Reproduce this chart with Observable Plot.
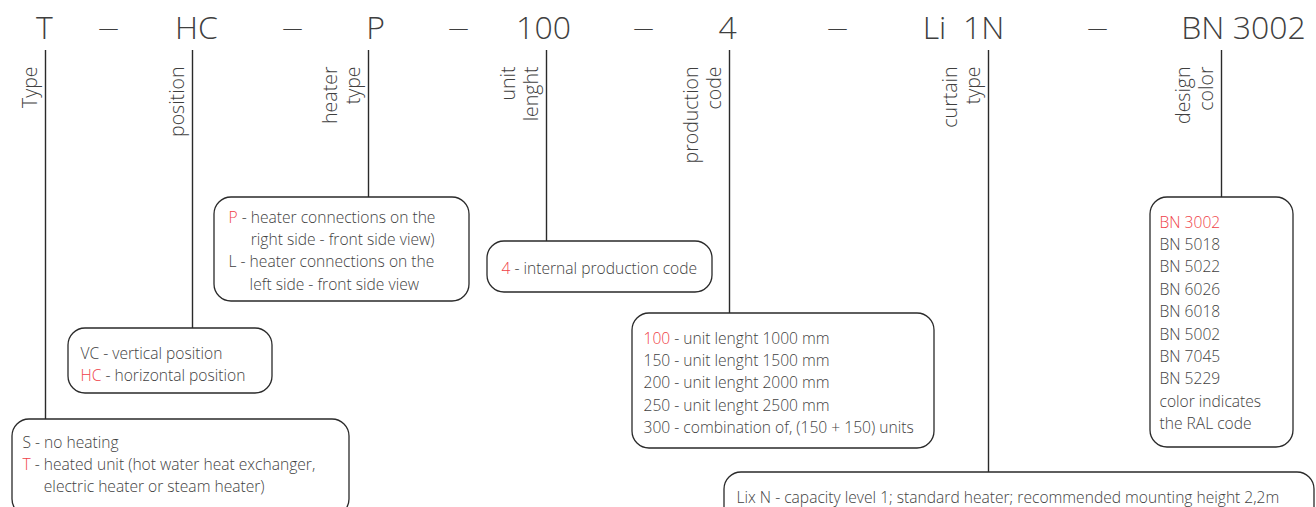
<!DOCTYPE html>
<html><head><meta charset="utf-8">
<script src="https://cdn.jsdelivr.net/npm/d3@7"></script>
<script src="https://cdn.jsdelivr.net/npm/@observablehq/plot@0.6"></script>
<style>html,body{margin:0;padding:0;background:#fff;overflow:hidden;} svg{display:block}</style>
</head><body><div id="chart"></div>
<script>
// ---- content ----
const DASH = "—";
const codeParts = ["T",DASH,"HC",DASH,"P",DASH,"100",DASH,"4",DASH,"Li\u00a0\u00a01N",DASH,"BN 3002"];
const fieldNames = ["Type","position","heater\ntype","unit\nlenght","production\ncode","curtain\ntype","design\ncolor"];
const typeOptions = [["S","no heating",false],["T","heated unit (hot water heat exchanger,\nelectric heater or steam heater)",true]];
const positionOptions = [["VC","vertical position",false],["HC","horizontal position",true]];
const heaterOptions = [["P","heater connections on the\nright side - front side view)",true],["L","heater connections on the\nleft side - front side view",false]];
const productionOptions = [["4","internal production code",true]];
const lengthOptions = [["100","unit lenght 1000 mm",true],["150","unit lenght 1500 mm",false],["200","unit lenght 2000 mm",false],["250","unit lenght 2500 mm",false],["300","combination of, (150 + 150) units",false]];
const curtainOptions = [["Lix N","capacity level 1; standard heater; recommended mounting height 2,2m",false]];
const colorOptions = ["BN 3002","BN 5018","BN 5022","BN 6026","BN 6018","BN 5002","BN 7045","BN 5229"];
const colorNote = ["color indicates","the RAL code"];
const selectedColor = "BN 3002";

// ---- layout (pixel frame of the diagram) ----
const W = 1316, H = 507;
const layout = {
  codeX: [44,108,196,292,375,458,543,643,727,837,963,1097,1243],
  codeBaseline: 38,
  dashBaseline: 34,
  stemX: [45,192,368,546,729,988,1221],
  stemTop: 50,
  stemBottom: [419,328,197,241,313,472,197],
  captionEnd: 66,
  captionGap: 9,
  // x1, y1, x2, y2, textX, firstBaseline
  boxes: [
    [12,419,349,516,22,447],     // type
    [68,328,272,393,80,358],     // position
    [214,197,469,301,228,222],   // heater
    [487,241,712,292,501,273],   // production code
    [632,313,934,448,643,343],   // unit length
    [724,472,1314,545,736,502],  // curtain
    [1150,197,1293,447,1159,227] // color
  ],
  lineStep: 22.4
};
const FONT = "'Open Sans', 'Noto Sans', sans-serif";
const GRAY = "#3f3f3f", RED = "#ef3f48", LINE = "#2a2a2a";
const BOX_SIZE = 15.6, BOX_WEIGHT = 300;

const ctx = document.createElement("canvas").getContext("2d");
ctx.font = `${BOX_WEIGHT} ${BOX_SIZE}px ${FONT}`;
const measure = s => ctx.measureText(s).width;

function optionItems(options, box) {
  const [, , , , tx, ty] = box;
  const items = [];
  let row = 0;
  for (const [key, desc, hl] of options) {
    const lines = desc.split("\n");
    const restX = tx + measure(key + " ");
    const contX = tx + measure(key + " - ");
    items.push({x: tx, y: ty + row * layout.lineStep, text: key, red: hl});
    items.push({x: restX, y: ty + row * layout.lineStep, text: "- " + lines[0], red: false});
    row++;
    for (const l of lines.slice(1)) {
      items.push({x: contX, y: ty + row * layout.lineStep, text: l, red: false});
      row++;
    }
  }
  return items;
}
const B = layout.boxes;
let items = [
  ...optionItems(typeOptions, B[0]),
  ...optionItems(positionOptions, B[1]),
  ...optionItems(heaterOptions, B[2]),
  ...optionItems(productionOptions, B[3]),
  ...optionItems(lengthOptions, B[4]),
  ...optionItems(curtainOptions, B[5])
];
[...colorOptions, ...colorNote].forEach((t, i) => {
  items.push({x: B[6][4], y: B[6][5] + i * layout.lineStep, text: t, red: t === selectedColor});
});

const codes = codeParts.map((t, i) => ({x: layout.codeX[i], y: t === DASH ? layout.dashBaseline : layout.codeBaseline, text: t}));
const stems = fieldNames.map((t, i) => ({x: layout.stemX[i], y1: layout.stemTop, y2: layout.stemBottom[i]}));
const captions = fieldNames.map((t, i) => ({x: layout.stemX[i] - layout.captionGap, y: layout.captionEnd, text: t}));
const boxes = B.map(b => ({x1: b[0], y1: b[1], x2: b[2], y2: b[3]}));

const plot = Plot.plot({
  width: W, height: H, margin: 0,
  x: {domain: [0, W], range: [0, W], axis: null},
  y: {domain: [0, H], range: [0, H], axis: null},
  style: {background: "#fff", fontFamily: FONT},
  marks: [
    Plot.ruleX(stems, {x: "x", y1: "y1", y2: "y2", stroke: LINE, strokeWidth: 1.4}),
    Plot.rect(boxes, {x1: "x1", y1: "y1", x2: "x2", y2: "y2", rx: 17, fill: "white", stroke: LINE, strokeWidth: 1.3}),
    Plot.text(codes.filter(d => d.text !== DASH), {x: "x", y: "y", text: "text", fontSize: 32, fontWeight: 300, fontFamily: FONT, fill: GRAY, textAnchor: "middle", lineAnchor: "bottom"}),
    Plot.text(codes.filter(d => d.text === DASH), {x: "x", y: "y", text: "text", fontSize: 20, fontWeight: 300, fontFamily: FONT, fill: GRAY, textAnchor: "middle", lineAnchor: "bottom"}),
    Plot.text(captions, {x: "x", y: "y", text: "text", rotate: -90, textAnchor: "end", lineAnchor: "bottom", lineHeight: 1.15, fontSize: 19.5, fontWeight: 300, fontFamily: FONT, fill: GRAY}),
    Plot.text(items.filter(d => !d.red), {x: "x", y: "y", text: "text", textAnchor: "start", lineAnchor: "bottom", fontSize: BOX_SIZE, fontWeight: BOX_WEIGHT, fontFamily: FONT, fill: GRAY}),
    Plot.text(items.filter(d => d.red), {x: "x", y: "y", text: "text", textAnchor: "start", lineAnchor: "bottom", fontSize: BOX_SIZE, fontWeight: BOX_WEIGHT, fontFamily: FONT, fill: RED})
  ]
});
document.getElementById("chart").appendChild(plot);
</script>
</body></html>
